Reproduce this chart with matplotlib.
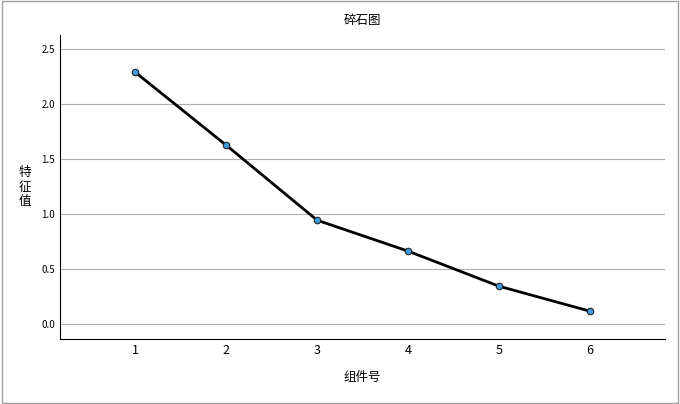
import matplotlib
matplotlib.use("Agg")
import matplotlib.pyplot as plt

components = [1, 2, 3, 4, 5, 6]
eigenvalues = [2.29, 1.627, 0.945, 0.664, 0.345, 0.118]
yticks = [0.0, 0.5, 1.0, 1.5, 2.0, 2.5]

plt.rcParams['font.family'] = ['Noto Sans CJK SC', 'DejaVu Sans']
fig = plt.figure(figsize=(6.8, 4.04), dpi=100)
fig.patches.append(matplotlib.patches.Rectangle((0.003, 0.003), 0.994, 0.994, transform=fig.transFigure,
                   fill=False, edgecolor='#a0a0a0', linewidth=1))
ax = fig.add_axes([60/680, 1-339/404, 605/680, 304/404])
ax.plot(components, eigenvalues, color='black', linewidth=2, zorder=3)
ax.scatter(components, eigenvalues, s=22, facecolor='#3d9ddc', edgecolor='#222222', linewidth=0.8, zorder=4)
ax.set_xlim(0.17, 6.83)
ax.set_ylim(-0.136, 2.63)
ax.set_yticks(yticks)
ax.set_yticklabels([f"{v:.1f}" for v in yticks], fontsize=7)
ax.set_xticks(components)
ax.set_xticklabels([str(c) for c in components], fontsize=9)
ax.yaxis.grid(True, color='#b0b0b0', linewidth=0.8)
ax.set_axisbelow(True)
for s in ['top', 'right']:
    ax.spines[s].set_visible(False)
ax.tick_params(length=0)
ax.set_title('碎石图', fontsize=9, pad=8)
ax.set_xlabel('组件号', fontsize=9, labelpad=10)
ax.set_ylabel('特\n征\n值', fontsize=9, rotation=0, va='center', labelpad=12)
fig.savefig('out.png', dpi=100)
